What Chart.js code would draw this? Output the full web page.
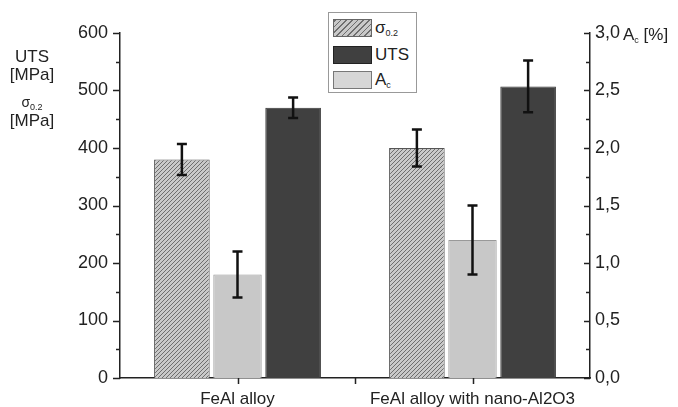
<!DOCTYPE html>
<html>
<head>
<meta charset="utf-8">
<script src="https://cdn.jsdelivr.net/npm/chart.js@4.4.1/dist/chart.umd.min.js"></script>
<style>
  body { margin: 0; background: #fff; font-family: "Liberation Sans", Arial, sans-serif; }
  #wrap { position: relative; width: 678px; height: 407px; }
  #chart { position: absolute; left: 0; top: 0; }
  .yt { position: absolute; left: 0; width: 64px; text-align: center; color: #222; font-size: 17px; line-height: 18px; }
  .yt.sig { font-size: 14px; }
  .yt sub, .legend sub, .rtitle sub { font-size: 9px; vertical-align: -3px; }
  .rtitle { position: absolute; left: 623px; top: 25px; color: #222; font-size: 17px; }
  .legend { position: absolute; left: 328px; top: 12px; width: 89px; height: 81px; border: 1px solid #999; background: #fff; box-sizing: border-box; }
  .legend .row { position: absolute; left: 4px; height: 19px; display: flex; align-items: center; font-size: 17px; color: #222; }
  .legend .sw { width: 39px; height: 18px; box-sizing: border-box; margin-right: 3px; }
</style>
</head>
<body>
<div id="wrap">
  <canvas id="chart" width="678" height="407"></canvas>
  <div class="yt" style="top:48px">UTS</div>
  <div class="yt" style="top:66px">[MPa]</div>
  <div class="yt sig" style="top:93px">σ<sub>0.2</sub></div>
  <div class="yt" style="top:112px">[MPa]</div>
  <div class="rtitle">A<sub>c</sub> [%]</div>
  <div class="legend" id="legend"></div>
</div>
<script>
// data
const categories = ['FeAl alloy', 'FeAl alloy with nano-Al2O3'];
const sigmaValues = [380, 400];   // MPa
const sigmaErrors = [27, 32];
const acValues = [0.9, 1.2];      // %
const acErrors = [0.2, 0.3];
const utsValues = [470, 507];     // MPa
const utsErrors = [18, 45];
const leftTicks = [0, 100, 200, 300, 400, 500, 600];
const rightTicks = [0, 0.5, 1, 1.5, 2, 2.5, 3];

const hatchBg = '#c9c9c9';
const hatchLine = '#6e6e6e';
const lightGray = '#c8c8c8';
const darkGray = '#404040';

function makeHatch() {
    const c = document.createElement('canvas');
    c.width = 4; c.height = 4;
    const g = c.getContext('2d');
    g.fillStyle = hatchBg;
    g.fillRect(0, 0, 4, 4);
    g.strokeStyle = hatchLine;
    g.lineWidth = 1;
    g.beginPath();
    g.moveTo(-1, 5); g.lineTo(5, -1);
    g.moveTo(-1, 1); g.lineTo(1, -1);
    g.moveTo(3, 5); g.lineTo(5, 3);
    g.stroke();
    return g.createPattern(c, 'repeat');
}

// legend box (html so the subscripts stay real text)
const legendItems = [
    { label: 'σ<sub>0.2</sub>', style: 'background: repeating-linear-gradient(-45deg, ' + hatchLine + ' 0 1px, ' + hatchBg + ' 1px 4px); border: 1px solid #666;', top: 5 },
    { label: 'UTS', style: 'background:' + darkGray + '; border: 1px solid #222;', top: 32 },
    { label: 'A<sub>c</sub>', style: 'background: #d6d6d6; border: 1px solid #777;', top: 57 }
];
document.getElementById('legend').innerHTML = legendItems.map(it =>
    '<div class="row" style="top:' + it.top + 'px"><div class="sw" style="' + it.style + '"></div><span>' + it.label + '</span></div>'
).join('');

// error bars
const errorBars = {
    id: 'errorBars',
    afterDatasetsDraw(chart) {
        const ctx = chart.ctx;
        chart.data.datasets.forEach((ds, di) => {
            const meta = chart.getDatasetMeta(di);
            const scale = chart.scales[meta.yAxisID];
            meta.data.forEach((bar, i) => {
                const v = ds.data[i], e = ds.errors[i];
                const yTop = scale.getPixelForValue(v + e);
                const yBot = scale.getPixelForValue(v - e);
                ctx.save();
                ctx.strokeStyle = '#111';
                ctx.lineWidth = 2.5;
                ctx.beginPath();
                ctx.moveTo(bar.x, yTop); ctx.lineTo(bar.x, yBot);
                ctx.moveTo(bar.x - 5, yTop); ctx.lineTo(bar.x + 5, yTop);
                ctx.moveTo(bar.x - 5, yBot); ctx.lineTo(bar.x + 5, yBot);
                ctx.stroke();
                ctx.restore();
            });
        });
    }
};

// major + minor tick marks (left outward, right inward, bottom outward)
const tickMarks = {
    id: 'tickMarks',
    afterDraw(chart) {
        const ctx = chart.ctx;
        const y = chart.scales.y, y1 = chart.scales.y1, x = chart.scales.x;
        const area = chart.chartArea;
        ctx.save();
        ctx.strokeStyle = '#222';
        ctx.lineWidth = 1.5;
        ctx.beginPath();
        for (let v = 0; v <= 600; v += 50) {
            const p = Math.round(y.getPixelForValue(v)) + 0.5;
            const len = v % 100 === 0 ? 7 : 4;
            ctx.moveTo(area.left, p); ctx.lineTo(area.left - len, p);
        }
        for (let v = 0; v <= 3; v += 0.25) {
            const p = Math.round(y1.getPixelForValue(v)) + 0.5;
            const len = Math.abs(v * 2 - Math.round(v * 2)) < 1e-6 ? 6 : 4;
            ctx.moveTo(area.right, p); ctx.lineTo(area.right - len, p);
        }
        const p0 = x.getPixelForValue(0), p1 = x.getPixelForValue(1);
        [p0, (p0 + p1) / 2, p1].forEach(p => {
            ctx.moveTo(Math.round(p) + 0.5, area.bottom); ctx.lineTo(Math.round(p) + 0.5, area.bottom + 6);
        });
        ctx.stroke();
        ctx.restore();
    }
};

const ctx = document.getElementById('chart').getContext('2d');
new Chart(ctx, {
    type: 'bar',
    data: {
        labels: categories,
        datasets: [{
            label: 'σ0.2',
            data: sigmaValues,
            errors: sigmaErrors,
            yAxisID: 'y',
            backgroundColor: makeHatch(),
            borderColor: '#555',
            borderWidth: 1,
            barPercentage: 1.0
        }, {
            label: 'Ac',
            data: acValues,
            errors: acErrors,
            yAxisID: 'y1',
            backgroundColor: lightGray,
            borderColor: '#999',
            borderWidth: 1,
            barPercentage: 0.87
        }, {
            label: 'UTS',
            data: utsValues,
            errors: utsErrors,
            yAxisID: 'y',
            backgroundColor: darkGray,
            borderColor: '#333',
            borderWidth: 1,
            barPercentage: 1.0
        }]
    },
    options: {
        responsive: false,
        animation: false,
        categoryPercentage: 0.71,
        layout: { padding: { top: 33, left: 0, right: 0, bottom: 0 } },
        plugins: {
            legend: { display: false },
            tooltip: { enabled: false }
        },
        scales: {
            x: {
                grid: { display: false, drawTicks: false },
                border: { color: '#222', width: 1.5 },
                ticks: { color: '#222', padding: 11, font: { family: 'Liberation Sans', size: 17 } },
                afterFit: s => { s.height = 29; }
            },
            y: {
                position: 'left',
                min: 0, max: 600,
                afterBuildTicks: s => { s.ticks = leftTicks.map(v => ({ value: v })); },
                grid: { display: false, drawTicks: false },
                border: { color: '#222', width: 1.5 },
                ticks: { color: '#222', padding: 12, font: { family: 'Liberation Sans', size: 18 } },
                afterFit: s => { s.width = 120; }
            },
            y1: {
                position: 'right',
                min: 0, max: 3,
                afterBuildTicks: s => { s.ticks = rightTicks.map(v => ({ value: v })); },
                grid: { display: false, drawTicks: false },
                border: { color: '#222', width: 1.5 },
                ticks: {
                    color: '#222', padding: 5, font: { family: 'Liberation Sans', size: 18 },
                    callback: v => v.toFixed(1).replace('.', ',')
                },
                afterFit: s => { s.width = 88; }
            }
        }
    },
    plugins: [errorBars, tickMarks]
});
</script>
</body>
</html>
